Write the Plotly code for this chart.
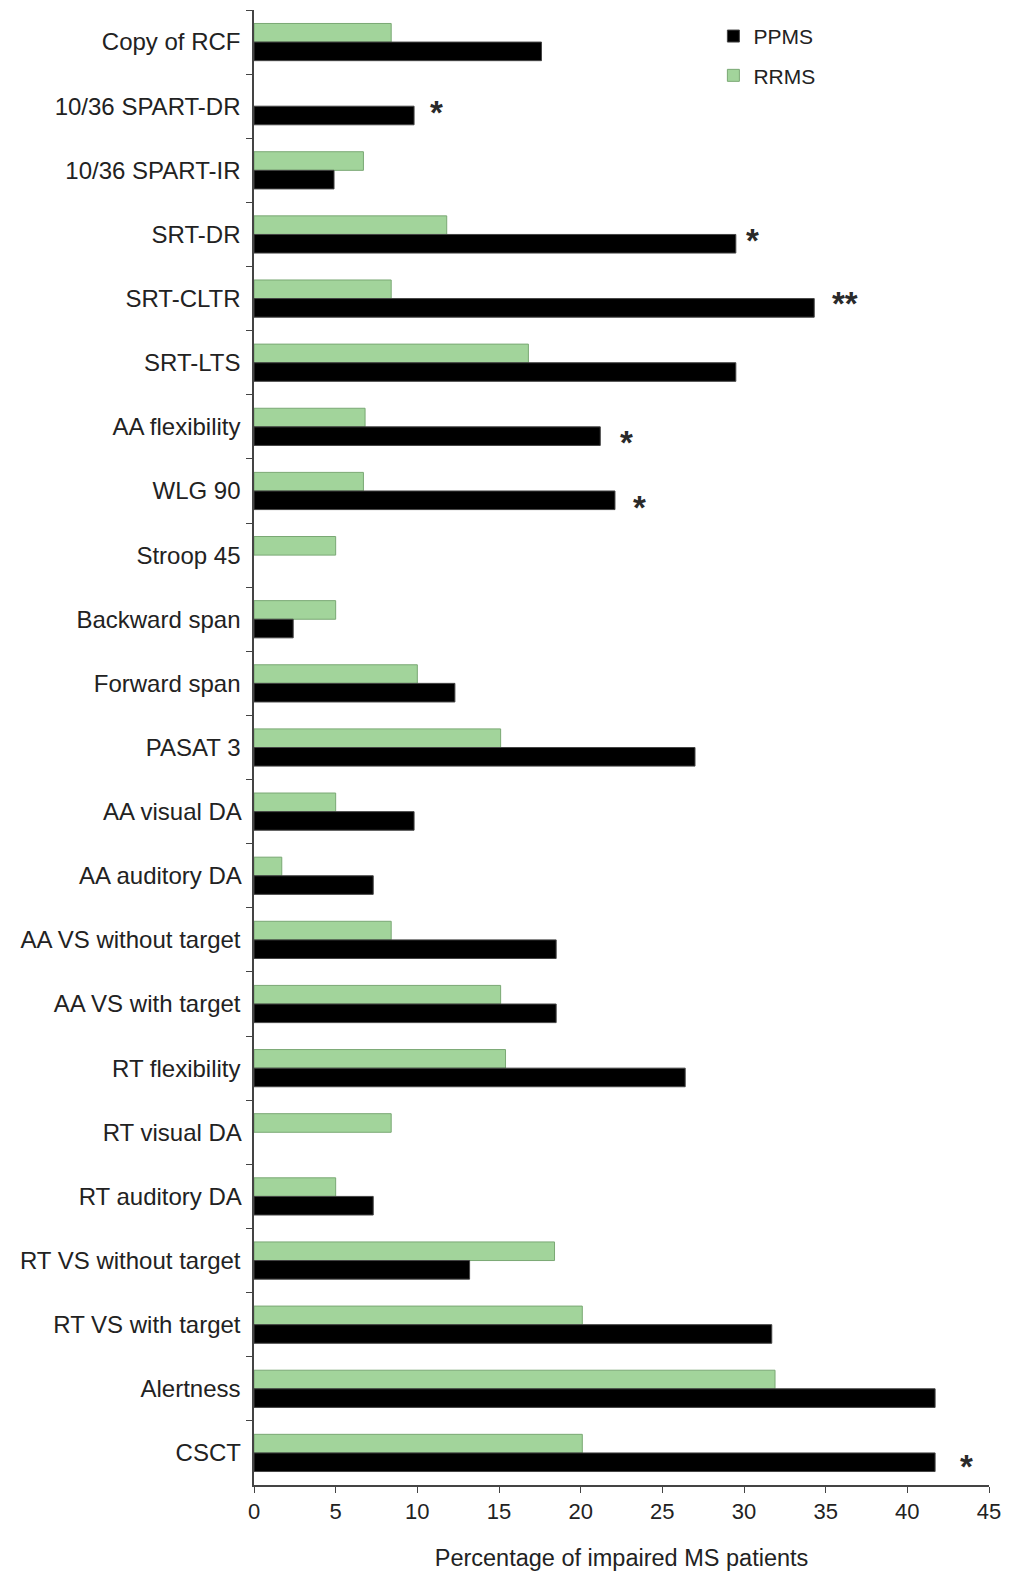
import plotly.graph_objects as go

categories = ["Copy of RCF", "10/36 SPART-DR", "10/36 SPART-IR", "SRT-DR", "SRT-CLTR",
              "SRT-LTS", "AA flexibility", "WLG 90", "Stroop 45", "Backward span",
              "Forward span", "PASAT 3", "AA visual DA", "AA auditory DA",
              "AA VS without target", "AA VS with target", "RT flexibility",
              "RT visual DA", "RT auditory DA", "RT VS without target",
              "RT VS with target", "Alertness", "CSCT"]
rrms = [8.4, 0, 6.7, 11.8, 8.4, 16.8, 6.8, 6.7, 5.0, 5.0, 10.0, 15.1, 5.0, 1.7,
        8.4, 15.1, 15.4, 8.4, 5.0, 18.4, 20.1, 31.9, 20.1]
ppms = [17.6, 9.8, 4.9, 29.5, 34.3, 29.5, 21.2, 22.1, 0, 2.4, 12.3, 27.0, 9.8, 7.3,
        18.5, 18.5, 26.4, 0, 7.3, 13.2, 31.7, 41.7, 41.7]
sig_labels = ["*", "*", "**", "*", "*", "*"]
sig_cats = ["10/36 SPART-DR", "SRT-DR", "SRT-CLTR", "AA flexibility", "WLG 90", "CSCT"]
sig_x = [11.15, 30.5, 36.2, 22.8, 23.6, 43.6]
sig_dy = [-6, -6, -5, -16, -17, -14]
x_ticks = [0, 5, 10, 15, 20, 25, 30, 35, 40, 45]

FONT = "Liberation Sans, Arial, sans-serif"


def nz(vals):
    return [v if v > 0 else None for v in vals]


fig = go.Figure()
fig.add_trace(go.Bar(y=categories, x=nz(rrms), orientation="h", name="RRMS",
                     marker=dict(color="#a2d49b", line=dict(color="#7aa874", width=1)),
                     legendrank=2, legendgroup="r"))
fig.add_trace(go.Bar(y=categories, x=nz(ppms), orientation="h", name="PPMS",
                     marker=dict(color="#000000", line=dict(color="#444444", width=1)),
                     legendrank=1, legendgroup="p"))

for lab, c, xv, dy in zip(sig_labels, sig_cats, sig_x, sig_dy):
    fig.add_annotation(x=xv, y=c, xref="x", yref="y", text="<b>" + lab + "</b>",
                       showarrow=False,
                       font=dict(family=FONT, size=33, color="#2a2a2a"), yshift=dy)

fig.update_layout(
    width=1005, height=1563,
    margin=dict(l=246, r=24, t=2, b=86),
    plot_bgcolor="white", paper_bgcolor="white",
    barmode="group", bargap=0.42, bargroupgap=0,
    font=dict(family=FONT, size=22, color="#222"),
    legend=dict(x=0.625, y=0.996, xanchor="left", yanchor="top",
                font=dict(family=FONT, size=21, color="#222"),
                tracegroupgap=9, bgcolor="rgba(0,0,0,0)"),
    xaxis=dict(range=[0, 45], tickvals=x_ticks, ticks="outside", ticklen=6,
               tickcolor="#444", showline=True, linecolor="#444", linewidth=2,
               showgrid=False, zeroline=False, tickfont=dict(size=22), automargin=False,
               title=dict(text="Percentage of impaired MS patients", standoff=27,
                          font=dict(size=23.5))),
    yaxis=dict(autorange="reversed", ticks="outside", ticklen=6, tickson="boundaries",
               tickcolor="#444", showline=True, linecolor="#444", linewidth=2,
               showgrid=False, tickfont=dict(size=24), ticksuffix=" ", automargin=False),
)
fig.write_html("out.html")
